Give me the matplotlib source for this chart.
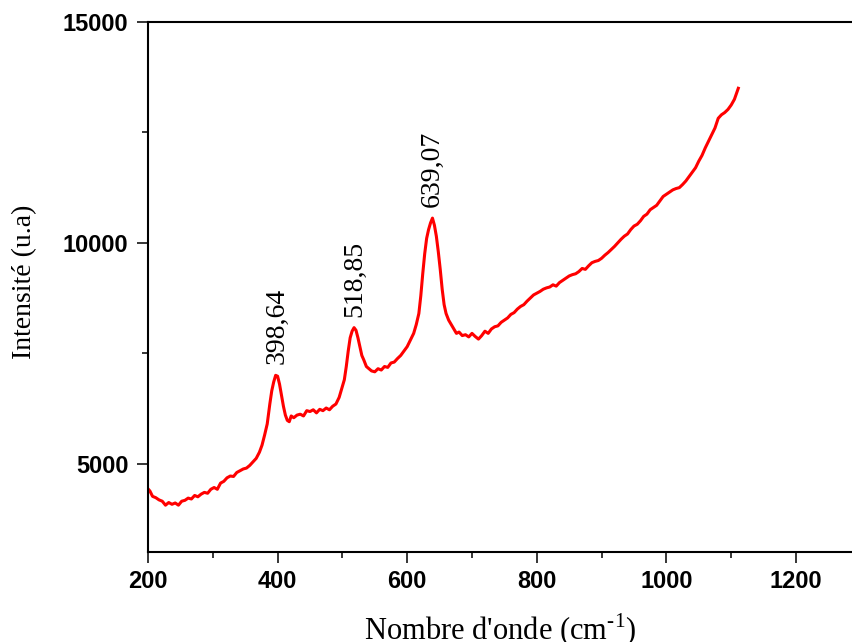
import matplotlib
matplotlib.use("Agg")
import matplotlib.pyplot as plt
from matplotlib.ticker import MultipleLocator

# Spectre Raman : nombre d'onde (cm-1) et intensité (u.a)
wavenumber = [200, 203, 207, 212, 217, 222, 227, 232, 237, 242, 247, 252, 257, 262, 267,
              272, 277, 282, 287, 292, 297, 302, 307, 312, 317, 322, 327, 332, 337, 342,
              347, 352, 357, 362, 367, 372, 376, 380, 384, 388, 391, 394, 397, 400, 403,
              406, 409, 412, 415, 418, 421, 425, 430, 435, 440, 445, 450, 455, 460, 465,
              470, 475, 480, 485, 490, 495, 499, 503, 506, 509, 512, 515, 518, 521, 524,
              527, 530, 533, 537, 541, 545, 550, 555, 560, 565, 570, 575, 580, 585, 590,
              595, 600, 605, 610, 614, 618, 621, 624, 627, 630, 633, 636, 639, 642, 645,
              648, 651, 654, 657, 660, 664, 668, 672, 676, 680, 685, 690, 695, 700, 705,
              710, 715, 720, 725, 730, 735, 740, 745, 750, 755, 760, 765, 770, 775, 780,
              785, 790, 795, 800, 805, 810, 815, 820, 825, 830, 835, 840, 845, 850, 855,
              860, 865, 870, 875, 880, 885, 890, 895, 900, 905, 910, 915, 920, 925, 930,
              935, 940, 945, 950, 955, 960, 965, 970, 975, 980, 985, 990, 995, 1000, 1005,
              1010, 1015, 1020, 1025, 1030, 1035, 1040, 1045, 1050, 1055, 1060, 1065, 1070, 1075, 1080,
              1085, 1090, 1095, 1100, 1105, 1111]
intensity = [4430, 4380, 4260, 4230, 4180, 4150, 4060, 4120, 4080, 4110, 4060, 4150, 4170, 4220, 4200,
             4280, 4250, 4310, 4350, 4330, 4420, 4460, 4420, 4560, 4600, 4680, 4720, 4710, 4800, 4840,
             4880, 4900, 4960, 5040, 5120, 5260, 5420, 5650, 5900, 6350, 6650, 6850, 7000, 6980, 6800,
             6550, 6300, 6100, 5980, 5950, 6080, 6040, 6100, 6120, 6080, 6200, 6180, 6220, 6150, 6230,
             6200, 6260, 6220, 6300, 6350, 6500, 6700, 6900, 7200, 7550, 7850, 8000, 8080, 8020, 7850,
             7650, 7450, 7350, 7200, 7150, 7100, 7080, 7150, 7120, 7200, 7180, 7280, 7300, 7380, 7450,
             7550, 7650, 7800, 7950, 8150, 8400, 8800, 9300, 9750, 10100, 10300, 10450, 10560, 10400, 10150,
             9800, 9400, 8950, 8600, 8400, 8250, 8150, 8050, 7950, 7980, 7900, 7920, 7870, 7950, 7880,
             7820, 7900, 8000, 7950, 8050, 8100, 8120, 8200, 8250, 8300, 8380, 8420, 8500, 8560, 8600,
             8680, 8750, 8820, 8860, 8900, 8950, 8980, 9000, 9050, 9020, 9100, 9150, 9200, 9250, 9280,
             9300, 9350, 9420, 9400, 9480, 9550, 9580, 9600, 9650, 9720, 9780, 9850, 9920, 10000, 10080,
             10150, 10200, 10300, 10380, 10420, 10500, 10600, 10650, 10750, 10800, 10850, 10950, 11050, 11100, 11150,
             11200, 11230, 11250, 11320, 11400, 11500, 11600, 11700, 11850, 11980, 12150, 12300, 12450, 12600, 12820,
             12900, 12950, 13020, 13120, 13250, 13500]

# pics annotés
peak_pos = [398.64, 518.85, 639.07]
peak_int = [7000, 8080, 10560]
peak_labels = ["398,64", "518,85", "639,07"]

plt.rcParams['mathtext.fontset'] = 'custom'
plt.rcParams['mathtext.rm'] = 'Liberation Serif'

fig = plt.figure(figsize=(8.53, 6.42), dpi=100)
ax = fig.add_axes([0.1735, 0.1402, 0.8265, 0.8255])

ax.plot(wavenumber, intensity, color='red', linewidth=2.2)

for x, y, lab in zip(peak_pos, peak_int, peak_labels):
    ax.annotate(lab, xy=(x, y), xytext=(0, 8), textcoords='offset points',
                rotation=90, ha='center', va='bottom',
                fontfamily='Liberation Serif', fontsize=20)

ax.set_xlim(200, 1288)
ax.set_ylim(3000, 15000)
ax.xaxis.set_major_locator(MultipleLocator(200))
ax.xaxis.set_minor_locator(MultipleLocator(100))
ax.yaxis.set_major_locator(MultipleLocator(5000))
ax.yaxis.set_minor_locator(MultipleLocator(2500))

ax.spines['right'].set_visible(False)
for s in ['left', 'bottom', 'top']:
    ax.spines[s].set_linewidth(1.5)

ax.tick_params(which='major', direction='out', length=8, width=1.1)
ax.tick_params(axis='y', which='major', pad=6)
ax.tick_params(axis='x', which='major', pad=5)
ax.tick_params(which='minor', direction='out', length=4, width=1.1)
ax.tick_params(top=False, right=False)
for lab in ax.get_xticklabels() + ax.get_yticklabels():
    lab.set_fontfamily('Liberation Sans')
    lab.set_fontweight('bold')
    lab.set_fontsize(17)

ax.set_xlabel("Nombre d'onde (cm$^{\\mathrm{\u2010}1}$)", fontfamily='Liberation Serif', fontsize=22)
ax.xaxis.set_label_coords(0.5, -0.113)
ax.xaxis.label.set_va('top')
ax.set_ylabel("Intensité (u.a)", fontfamily='Liberation Serif', fontsize=20)
ax.yaxis.set_label_coords(-0.157, 0.51)

fig.savefig("out.png", dpi=100)
